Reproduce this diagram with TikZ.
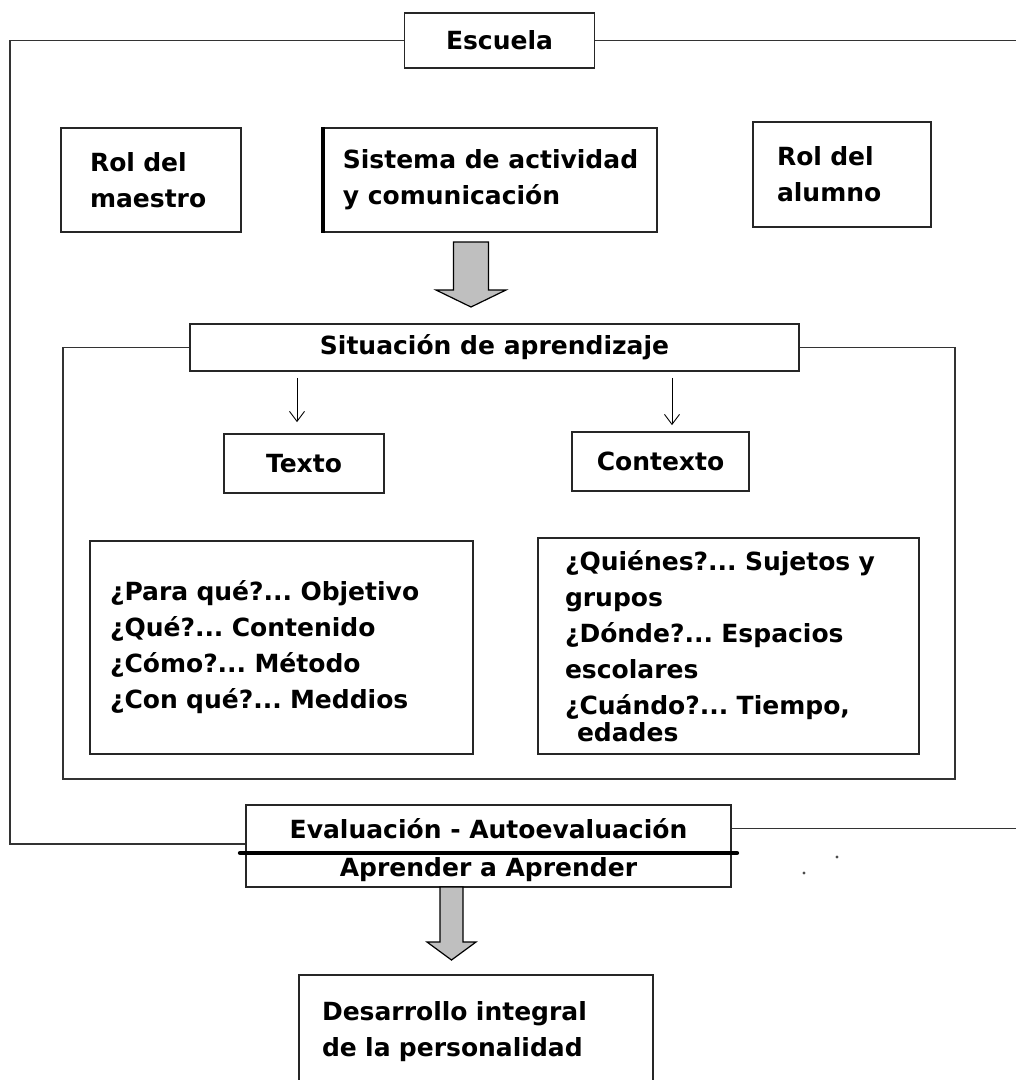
\documentclass[tikz,border=0pt]{standalone}
\usepackage{fontspec}
\setmainfont{DejaVu Sans}
\usetikzlibrary{calc,arrows.meta}
\frenchspacing

\begin{document}
\begin{tikzpicture}[x=1pt,y=-1pt,
  box/.style={draw=black!85,line width=1.8pt,rectangle,inner sep=0pt,fill=white,
    font=\fontsize{25}{36}\selectfont\bfseries},
  frameline/.style={draw=black!80,line width=1.7pt},
  smallarrow/.style={-{Straight Barb[length=10pt,width=15pt]},line width=0.9pt},
  bigarrow/.style={draw=black,line width=1.2pt,fill=black!25}]
	\useasboundingbox (0,0) rectangle (1016,1080);
	\clip (0,0) rectangle (1016,1080);

	% upper level
	\node[box,minimum width=190pt,minimum height=55pt] (esc) at (499.5,40.5) {Escuela};
	\node[box,minimum width=180pt,minimum height=104pt,align=left,text width=122pt] (rm) at (151,180) {Rol del\\maestro};
	\node[box,minimum width=333pt,minimum height=104pt,align=left] (sis) at (490.5,180) {Sistema de actividad\\y comunicación};
	\node[box,minimum width=178pt,minimum height=105pt,align=left,text width=130pt] (ra) at (842,174.5) {Rol del\\alumno};
	\draw[line width=3.4pt] (sis.north west) -- (sis.south west);

	% situation
	\node[box,minimum width=609pt,minimum height=47pt] (sit) at (494.5,347.5) {Situación de aprendizaje};
	\node[box,minimum width=160pt,minimum height=59pt] (tex) at (304,463.5) {Texto};
	\node[box,minimum width=177pt,minimum height=59pt] (con) at (660.5,461.5) {Contexto};
	\node[box,minimum width=383pt,minimum height=213pt,align=left,text width=343pt] (qt) at (281.5,647.5)
	  {¿Para qué?... Objetivo\\¿Qué?... Contenido\\¿Cómo?... Método\\¿Con qué?... Meddios};
	\node[box,minimum width=381pt,minimum height=216pt,align=left,text width=327pt] (qc) at (728.5,646)
	  {¿Quiénes?... Sujetos y\\grupos\\¿Dónde?... Espacios\\escolares\\¿Cuándo?... Tiempo,\\[-9pt]\hspace*{12pt}edades};

	% evaluation
	\node[box,minimum width=485pt,minimum height=47pt] (eva) at (488.5,828.5) {Evaluación - Autoevaluación};
	\node[box,minimum width=485pt,minimum height=35pt] (apr) at (488.5,869.5) {Aprender a Aprender};
	\draw[line width=4.5pt,line cap=round] ([xshift=-5pt]eva.south west) -- ([xshift=5pt]eva.south east);
	\node[box,minimum width=354pt,minimum height=114pt,align=left,text width=308pt] (des) at (476,1032)
	  {Desarrollo integral\\de la personalidad};

	% frames
	\coordinate (lb) at (10,844);
	\coordinate (rt) at (1018,38);
	\draw[frameline] (esc.west) -| (lb) -- (lb -| eva.west);
	\draw[frameline] (esc.east) -- (esc.east -| rt);
	\draw[frameline] (eva.east) -- (eva.east -| rt);
	\coordinate (ilb) at (63,779);
	\coordinate (irb) at (955,779);
	\draw[frameline] (sit.west) -| (ilb) -- (irb) |- (sit.east);

	% arrows
	\draw[smallarrow,shorten <=6pt,shorten >=11pt] ([xshift=-7pt]tex.north |- sit.south) -- ([xshift=-7pt]tex.north);
	\draw[smallarrow,shorten <=6pt,shorten >=6pt] ([xshift=11.5pt]con.north |- sit.south) -- ([xshift=11.5pt]con.north);

	\coordinate (s1) at (471,242);
	\coordinate (t1) at (471,307);
	\filldraw[bigarrow] ($(s1)+(-17.5,0)$) -- ($(s1)+(17.5,0)$) -- ($(t1)+(17.5,-17)$) -- ($(t1)+(35,-17)$)
	  -- (t1) -- ($(t1)+(-35,-17)$) -- ($(t1)+(-17.5,-17)$) -- cycle;
	\coordinate (s2) at (451.5,887);
	\coordinate (t2) at (451.5,960);
	\filldraw[bigarrow] ($(s2)+(-11.5,0)$) -- ($(s2)+(11.5,0)$) -- ($(t2)+(11.5,-18)$) -- ($(t2)+(24.5,-18)$)
	  -- (t2) -- ($(t2)+(-24.5,-18)$) -- ($(t2)+(-11.5,-18)$) -- cycle;

	\fill[black!70] (837,857) circle (1.6pt) (804,873) circle (1.6pt);
\end{tikzpicture}
\end{document}
